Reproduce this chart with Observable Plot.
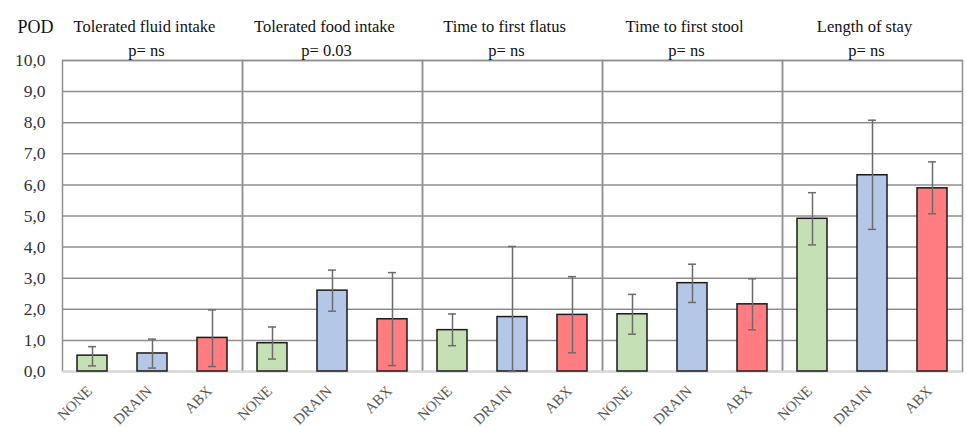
<!DOCTYPE html>
<html><head><meta charset="utf-8">
<script src="https://cdn.jsdelivr.net/npm/d3@7"></script>
<script src="https://cdn.jsdelivr.net/npm/@observablehq/plot@0.6"></script>
<style>body{margin:0;background:#fff} svg text{font-family:"Liberation Serif","Times New Roman",serif !important;}</style>
</head><body><div id="chart"></div>
<script>
const groups = ["Tolerated fluid intake", "Tolerated food intake", "Time to first flatus", "Time to first stool", "Length of stay"];
const pValues = ["p= ns", "p= 0.03", "p= ns", "p= ns", "p= ns"];
const arms = ["NONE", "DRAIN", "ABX"];
const armColors = ["#c5e0b4", "#b4c7e7", "#ff7c80"];
const means = [[0.51, 0.58, 1.08], [0.91, 2.60, 1.68], [1.33, 1.75, 1.82], [1.84, 2.84, 2.16], [4.91, 6.31, 5.89]];
const lows  = [[0.18, 0.11, 0.16], [0.40, 1.94, 0.19], [0.83, 0.00, 0.60], [1.20, 2.22, 1.34], [4.07, 4.57, 5.07]];
const highs = [[0.80, 1.04, 1.98], [1.43, 3.26, 3.18], [1.85, 4.02, 3.05], [2.48, 3.45, 2.98], [5.75, 8.08, 6.74]];
const yTicks = [0, 1, 2, 3, 4, 5, 6, 7, 8, 9, 10];
const yLabel = "POD";
const serif = "'Liberation Serif', 'Times New Roman', serif";

const rows = [];
groups.forEach((g, i) => arms.forEach((a, j) => rows.push({group: g, arm: a, mean: means[i][j], lo: lows[i][j], hi: highs[i][j]})));
const titles = groups.map((g, i) => ({group: g, title: g, p: pValues[i]}));

const chart = Plot.plot({
  width: 967, height: 427,
  marginLeft: 62, marginRight: 5, marginTop: 60, marginBottom: 56,
  style: {fontFamily: serif, background: "#fff"},
  fx: {domain: groups, padding: 0, axis: null},
  x: {domain: arms, paddingInner: 0.5, paddingOuter: 0.25, axis: null},
  y: {domain: [0, 10], axis: null},
  color: {domain: arms, range: armColors},
  marks: [
    Plot.gridY(yTicks.slice(1), {stroke: "#8f8f8f", strokeOpacity: 1, strokeWidth: 1.5}),
    Plot.frame({stroke: "#8f8f8f", strokeWidth: 1.5}),
    Plot.ruleY([0], {stroke: "#d9d9d9", strokeWidth: 2}),
    Plot.barY(rows, {fx: "group", x: "arm", y: "mean", fill: "arm", stroke: "#1a1a1a", strokeWidth: 1.5}),
    Plot.ruleX(rows, {fx: "group", x: "arm", y1: "lo", y2: "hi", stroke: "#6b6b6b", strokeWidth: 1.5}),
    Plot.tickY(rows, {fx: "group", x: "arm", y: "lo", stroke: "#6b6b6b", strokeWidth: 1.5, insetLeft: 11, insetRight: 11}),
    Plot.tickY(rows, {fx: "group", x: "arm", y: "hi", stroke: "#6b6b6b", strokeWidth: 1.5, insetLeft: 11, insetRight: 11}),
    Plot.axisY({ticks: yTicks, tickFormat: d => d.toFixed(1).replace(".", ","), tickSize: 0, tickPadding: 17, fontSize: 17.5, fontFamily: serif, fill: "#333", label: null}),
    Plot.axisX({tickRotate: -45, tickSize: 0, tickPadding: 17, dx: -3, fontSize: 15, fontFamily: serif, fill: "#595959", label: null}),
    Plot.text(titles, {fx: "group", text: "title", frameAnchor: "top", dx: -8, dy: -40, fontSize: 16.5, fontFamily: serif, fill: "#111"}),
    Plot.text(titles, {fx: "group", text: "p", frameAnchor: "top", dx: -6, dy: -16, fontSize: 16.5, fontFamily: serif, fill: "#111"}),
    Plot.text([groups[0]], {fx: d => d, text: () => yLabel, frameAnchor: "top-left", textAnchor: "start", dx: -45, dy: -40, fontSize: 18, fontFamily: serif, fill: "#111"})
  ]
});
document.getElementById("chart").appendChild(chart);
</script>
</body></html>
